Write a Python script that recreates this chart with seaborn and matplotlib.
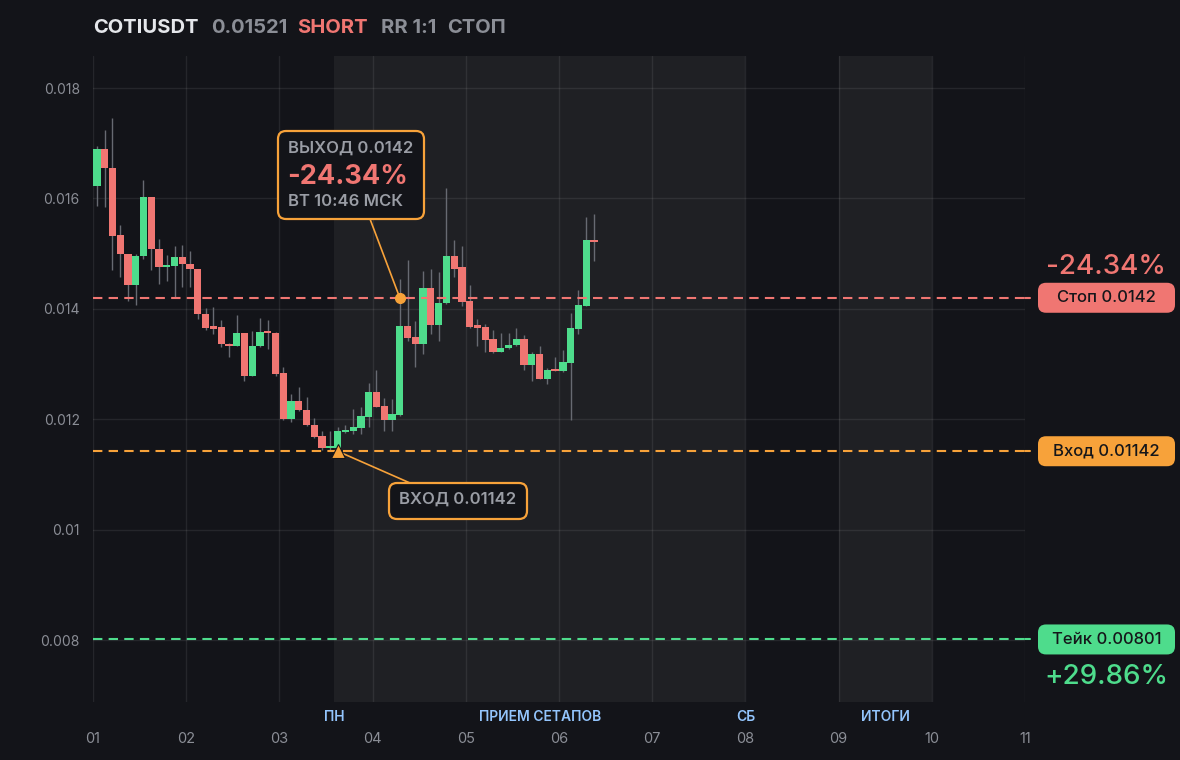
import numpy as np
import matplotlib
matplotlib.use('Agg')
import matplotlib.pyplot as plt
import matplotlib.transforms as mtransforms
from matplotlib.patches import FancyBboxPatch
from matplotlib.ticker import FuncFormatter
import seaborn as sns


# 2h candles, COTIUSDT
OPENS = [0.01622, 0.01689, 0.01656, 0.01533, 0.01499, 0.01444, 0.01495, 0.01602, 0.01509, 0.01475,
         0.01477, 0.01493, 0.01481, 0.01472, 0.01390, 0.01367, 0.01367, 0.01337, 0.01333, 0.01356,
         0.01278, 0.01332, 0.01358, 0.01356, 0.01283, 0.01201, 0.01233, 0.01216, 0.01189, 0.01169,
         0.01147, 0.01148, 0.01177, 0.01178, 0.01184, 0.01204, 0.01249, 0.01224, 0.01198, 0.01207,
         0.01369, 0.01349, 0.01337, 0.01437, 0.01370, 0.01410, 0.01495, 0.01475, 0.01415, 0.01369,
         0.01367, 0.01345, 0.01322, 0.01329, 0.01334, 0.01346, 0.01298, 0.01319, 0.01273, 0.01290,
         0.01287, 0.01302, 0.01364, 0.01406, 0.01525]
HIGHS = [0.01695, 0.01724, 0.01745, 0.01551, 0.01500, 0.01499, 0.01633, 0.01602, 0.01527, 0.01498,
         0.01513, 0.01515, 0.01505, 0.01472, 0.01402, 0.01404, 0.01380, 0.01338, 0.01389, 0.01356,
         0.01360, 0.01383, 0.01379, 0.01358, 0.01295, 0.01246, 0.01258, 0.01240, 0.01202, 0.01178,
         0.01178, 0.01185, 0.01190, 0.01218, 0.01222, 0.01266, 0.01289, 0.01239, 0.01236, 0.01454,
         0.01489, 0.01378, 0.01469, 0.01472, 0.01467, 0.01618, 0.01524, 0.01513, 0.01443, 0.01381,
         0.01373, 0.01361, 0.01357, 0.01357, 0.01366, 0.01352, 0.01322, 0.01333, 0.01292, 0.01312,
         0.01325, 0.01393, 0.01434, 0.01567, 0.01571]
LOWS = [0.01587, 0.01585, 0.01471, 0.01457, 0.01415, 0.01407, 0.01491, 0.01470, 0.01445, 0.01451,
        0.01422, 0.01439, 0.01439, 0.01381, 0.01361, 0.01354, 0.01330, 0.01312, 0.01333, 0.01269,
        0.01278, 0.01331, 0.01327, 0.01278, 0.01198, 0.01195, 0.01215, 0.01187, 0.01166, 0.01145,
        0.01144, 0.01142, 0.01175, 0.01173, 0.01173, 0.01185, 0.01222, 0.01179, 0.01179, 0.01206,
        0.01341, 0.01295, 0.01319, 0.01354, 0.01342, 0.01409, 0.01458, 0.01405, 0.01366, 0.01332,
        0.01321, 0.01320, 0.01321, 0.01327, 0.01333, 0.01289, 0.01270, 0.01272, 0.01263, 0.01287,
        0.01286, 0.01199, 0.01354, 0.01405, 0.01487]
CLOSES = [0.01689, 0.01655, 0.01532, 0.01499, 0.01444, 0.01496, 0.01602, 0.01508, 0.01475, 0.01478,
          0.01493, 0.01481, 0.01472, 0.01390, 0.01366, 0.01364, 0.01336, 0.01333, 0.01356, 0.01278,
          0.01333, 0.01358, 0.01356, 0.01282, 0.01201, 0.01233, 0.01216, 0.01189, 0.01167, 0.01147,
          0.01149, 0.01178, 0.01181, 0.01186, 0.01205, 0.01249, 0.01222, 0.01198, 0.01209, 0.01369,
          0.01348, 0.01337, 0.01437, 0.01370, 0.01410, 0.01495, 0.01473, 0.01413, 0.01367, 0.01366,
          0.01344, 0.01322, 0.01329, 0.01335, 0.01346, 0.01298, 0.01319, 0.01273, 0.01290, 0.01287,
          0.01304, 0.01365, 0.01407, 0.01525, 0.01521]

DAY_LABELS = ['01', '02', '03', '04', '05', '06', '07', '08', '09', '10', '11']
Y_TICKS = [0.008, 0.010, 0.012, 0.014, 0.016, 0.018]
SECTIONS = [('ПН', 2.585), ('ПРИЕМ СЕТАПОВ', 4.8), ('СБ', 7.0), ('ИТОГИ', 8.5)]
SHADES = [(2.585, 7.0), (8.0, 9.0)]

STOP = 0.0142
ENTRY = 0.01142
TAKE = 0.00801
LAST = 0.01521
ENTRY_IDX = 31
EXIT_IDX = 39
CANDLES_PER_DAY = 12

BG = '#131419'
SHADE = '#1f2024'
RED = '#f07672'
GREEN = '#4edc8c'
ORANGE = '#f7a23a'
GRAY = '#8b8e96'
BOX_TXT = '#9a9da5'
BLUE = '#93c5fd'
WICK = '#676a72'

W, H = 1180, 760

sns.set_theme(style='dark', rc={'axes.facecolor': BG, 'figure.facecolor': BG})
plt.rcParams['font.family'] = ['Inter', 'DejaVu Sans']

fig = plt.figure(figsize=(W / 100, H / 100), dpi=100)
ax = fig.add_axes([93 / W, 1 - 702 / H, (1025 - 93) / W, (702 - 56) / H])
ax.set_facecolor(BG)
ax.set_xlim(0, 10)
ax.set_ylim(0.006877, 0.01858)

for x0, x1 in SHADES:
    ax.axvspan(x0, x1, color=SHADE, lw=0, zorder=0)

# candles
xs = (np.arange(len(OPENS)) + 0.5) / CANDLES_PER_DAY
o = np.array(OPENS)
c = np.array(CLOSES)
up = c >= o
colors = np.where(up, GREEN, RED)
bottoms = np.minimum(o, c)
heights = np.maximum(np.abs(c - o), 0.00004)
ax.vlines(xs, LOWS, HIGHS, color=WICK, lw=1, zorder=2)
ax.bar(xs, heights, bottom=bottoms, width=0.078, color=colors, lw=0, zorder=3)

# levels
ax.axhline(STOP, color=RED, lw=1.5, dashes=(4.5, 3), zorder=4)
ax.axhline(ENTRY, color=ORANGE, lw=1.5, dashes=(4.5, 3), zorder=4)
ax.axhline(TAKE, color=GREEN, lw=1.5, dashes=(4.5, 3), zorder=4)
for lvl, col in [(STOP, RED), (ENTRY, ORANGE), (TAKE, GREEN)]:
    ax.plot([1.0, 1.005], [lvl, lvl], color=col, lw=1.5,
            transform=ax.get_yaxis_transform(), clip_on=False)

ax.plot(xs[EXIT_IDX], STOP, 'o', color=ORANGE, ms=7, zorder=6)
ax.plot(xs[ENTRY_IDX], ENTRY, '^', color=ORANGE, ms=10, mec=BG, mew=0.8, zorder=6)

# axes styling
ax.set_xticks(range(len(DAY_LABELS)))
ax.set_xticklabels(DAY_LABELS)
ax.set_yticks(Y_TICKS)
ax.yaxis.set_major_formatter(FuncFormatter(lambda v, p: f'{v:g}'))
ax.tick_params(axis='x', length=0, pad=21.5, labelsize=10.5, labelcolor=GRAY)
ax.tick_params(axis='y', length=0, pad=9.5, labelsize=10, labelcolor=GRAY)
ax.grid(True, color='white', alpha=0.08, lw=1)
for s in ax.spines.values():
    s.set_visible(False)

for name, xpos in SECTIONS:
    ax.text(xpos, -0.023, name, transform=ax.get_xaxis_transform(), ha='center', va='center',
            fontsize=10, fontweight='semibold', color=BLUE)

# pixel coords measured from the top-left corner
top_px = mtransforms.Affine2D().scale(1, -1).translate(0, H)


def level_px(v):
    return H - ax.transData.transform((0, v))[1]


def rbox(x0, y0, w, h, fc, ec=None, lw=0):
    p = FancyBboxPatch((x0, y0), w, h, boxstyle='round,pad=0,rounding_size=8',
                       transform=top_px, fc=fc, ec=ec if ec else fc, lw=lw, zorder=10)
    fig.add_artist(p)


# header
header = [('COTIUSDT', 93, '#e5e7eb'), ('0.01521', 211, GRAY), ('SHORT', 297, RED),
          ('RR 1:1', 381, GRAY), ('СТОП', 447, GRAY)]
for txt, x0, col in header:
    fig.text(x0, 28, txt, transform=top_px, ha='left', va='center', fontsize=14.5,
             fontweight='bold', color=col)

# exit callout
rbox(278, 131, 146, 88, BG, ORANGE, 1.6)
fig.text(288, 148, f'ВЫХОД {STOP:g}', transform=top_px, va='center', fontsize=12,
         fontweight='semibold', color=BOX_TXT, zorder=11)
fig.text(287, 177, '-24.34%', transform=top_px, va='center', fontsize=19.5,
         fontweight='bold', color=RED, zorder=11)
fig.text(288, 202, 'ВТ 10:46 МСК', transform=top_px, va='center', fontsize=12,
         fontweight='semibold', color=BOX_TXT, zorder=11)
ax.annotate('', xy=(xs[EXIT_IDX], STOP), xytext=(370, 219), textcoords=top_px,
            arrowprops=dict(arrowstyle='-', color=ORANGE, lw=1.2, shrinkA=0, shrinkB=3), zorder=5)

# entry callout
rbox(389, 483, 138, 36, BG, ORANGE, 1.6)
fig.text(458, 499, f'ВХОД {ENTRY:g}', transform=top_px, ha='center', va='center', fontsize=12,
         fontweight='semibold', color=BOX_TXT, zorder=11)
ax.annotate('', xy=(xs[ENTRY_IDX], ENTRY), xytext=(410, 483), textcoords=top_px,
            arrowprops=dict(arrowstyle='-', color=ORANGE, lw=1.2, shrinkA=0, shrinkB=0), zorder=5)

# right side badges
for label, lvl, col in [(f'Стоп {STOP:g}', STOP, RED), (f'Вход {ENTRY:g}', ENTRY, ORANGE),
                        (f'Тейк {TAKE:g}', TAKE, GREEN)]:
    yc = level_px(lvl)
    rbox(1038, yc - 15, 137, 30, col)
    fig.text(1106.5, yc, label, transform=top_px, ha='center', va='center', fontsize=12,
             fontweight='medium', color='#15161a', zorder=11)

fig.text(1106, level_px(STOP) - 31, '-24.34%', transform=top_px, ha='center', va='center',
         fontsize=20, fontweight='medium', color=RED)
fig.text(1106, level_px(TAKE) + 38, '+29.86%', transform=top_px, ha='center', va='center',
         fontsize=20, fontweight='medium', color=GREEN)

fig.savefig('out.png', dpi=100, facecolor=BG)
